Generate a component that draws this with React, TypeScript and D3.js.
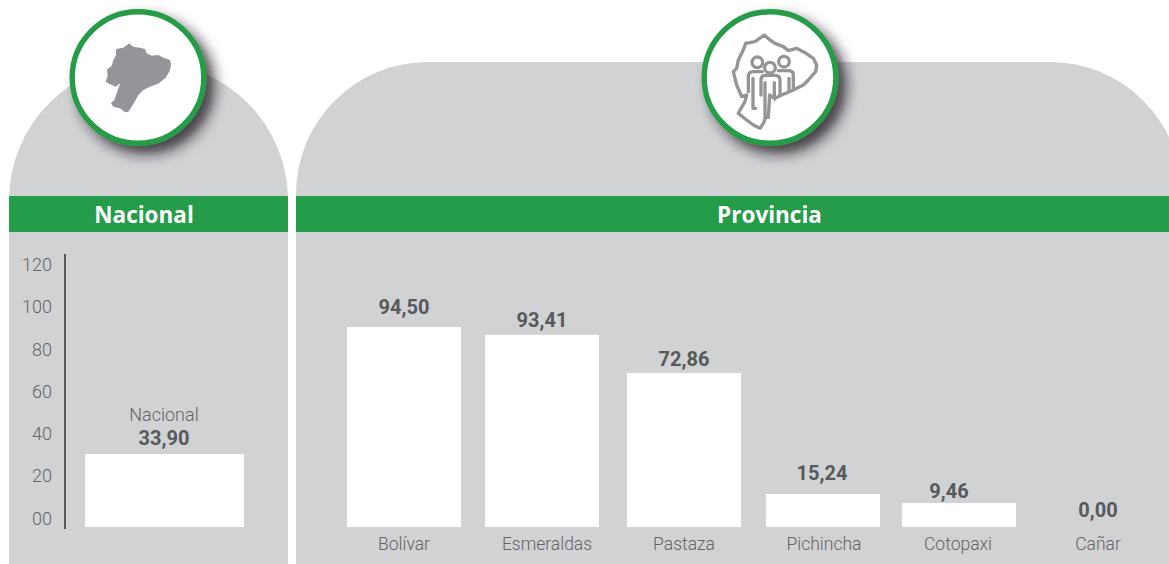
import React from "react";
import * as d3 from "d3";

// ---- Data ----
const provinceCategories = ["Bolívar", "Esmeraldas", "Pastaza", "Pichincha", "Cotopaxi", "Cañar"];
const provinceLabels = ["94,50", "93,41", "72,86", "15,24", "9,46", "0,00"];
// Bar lengths, in axis units (the source infographic's bars
// do not strictly follow their printed labels).
const provinceBarLengths = [94.5, 90.8, 72.8, 15.6, 11.3, 0];
const nationalCategory = "Nacional";
const nationalLabel = "33,90";
const nationalBarLength = 34.5;
const axisTicks = [0, 20, 40, 60, 80, 100, 120];

// ---- Layout ----
const W = 1169;
const H = 564;
const GREEN = "#259c4a";
const PANEL = "#d1d2d4";
const TEXT_LIGHT = "#636466";
const TEXT_BOLD = "#58595b";
const SANS = "Roboto, sans-serif";
const BAR_W = 114;
const provinceCenters = [404, 542, 684, 823, 959, 1098];
const categoryDx = [0, 5, 0, 1, -1, 0];
const valueDx = [0, 0, 0, -1, -10, 0];
const valueBaselines = [314, 327, 366, 480, 498, 517];

const y = d3.scaleLinear().domain([0, 120]).range([527, 527 - 2.116 * 120]);
const tickY = d3.scaleLinear().domain([0, 120]).range([524.5, 271]);
const xProvince = d3.scaleOrdinal<string, number>().domain(provinceCategories).range(provinceCenters);

const mapPts: [number, number][] = [
  [103, 25], [110, 32], [118, 36], [135, 38], [150, 42], [155, 55], [170, 62], [190, 60], [205, 68], [225, 75], [228, 90],
  [224, 108], [212, 128], [192, 145], [165, 155], [145, 165], [130, 180], [122, 195], [110, 215], [100, 230],
  [90, 232], [75, 220], [55, 215], [48, 205], [58, 195], [64, 178], [70, 160], [76, 145], [62, 155], [45, 148],
  [32, 140], [38, 122], [36, 104], [50, 92], [55, 76], [62, 62], [64, 42], [85, 38],
];
const outlinePts: [number, number][] = [
  [118, 15], [135, 30], [150, 40], [175, 50], [190, 62], [215, 55], [240, 68], [265, 85], [275, 105], [272, 125],
  [250, 150], [235, 165], [205, 180], [170, 195], [150, 205], [135, 225], [125, 255], [115, 280], [105, 295],
  [85, 285], [65, 270], [40, 250], [48, 235], [60, 215], [65, 195], [50, 200], [35, 165], [25, 125], [35, 115],
  [40, 90], [55, 60], [62, 40], [90, 35],
];
const closed = d3.line().curve(d3.curveLinearClosed);

function Badge({ cx, children }: { cx: number; children?: React.ReactNode }) {
  return (
    <g>
      <circle cx={cx} cy={77.5} r={65.8} fill="#fff" stroke={GREEN} strokeWidth={5.4} filter="url(#badgeShadow)" />
      {children}
    </g>
  );
}

export default function App() {
  return (
    <svg width={W} height={H} viewBox={`0 0 ${W} ${H}`} style={{ position: "absolute", left: 0, top: 0, background: "#fff" }}>
      <defs>
        <filter id="badgeShadow" x="-30%" y="-30%" width="170%" height="170%">
          <feDropShadow dx={8} dy={8} stdDeviation={6.5} floodColor="#231f20" floodOpacity={0.8} />
        </filter>
      </defs>

      {/* Panels */}
      <path d={`M9,${H} V200 A139.5,138 0 0 1 288,200 V${H} Z`} fill={PANEL} />
      <path d={`M296,${H} V194 A132,132 0 0 1 428,62 H1050 A132,132 0 0 1 1182,194 V${H} Z`} fill={PANEL} />

      {/* Header bands */}
      <rect x={9} y={196} width={279} height={36} fill={GREEN} />
      <rect x={296} y={196} width={W - 296} height={36} fill={GREEN} />
      <text x={144} y={223} textAnchor="middle" fill="#fff" fontFamily="'Open Sans', sans-serif" fontWeight={700} fontSize={22.5}>Nacional</text>
      <text x={769.5} y={223} textAnchor="middle" fill="#fff" fontFamily="'Open Sans', sans-serif" fontWeight={700} fontSize={22.5}>Provincia</text>

      {/* Badges */}
      <Badge cx={138}>
        <path d={closed(mapPts) ?? ""} transform="translate(95,35) scale(0.3333)" fill="#939598" />
      </Badge>
      <Badge cx={770}>
        <g transform="translate(725,30) scale(0.3333)" fill="none" stroke="#939598" strokeWidth={10} strokeLinejoin="round" strokeLinecap="round">
          <path d={closed(outlinePts) ?? ""} />
          <path d="M68,188 V140 Q68,123 85,123 H192 Q207,123 207,138 V178 H165 L150,205 L132,262 H116 L106,200 H85 Z" fill="#fff" stroke="none" />
          <circle cx={97} cy={97} r={16} fill="#fff" />
          <circle cx={177} cy={95} r={16} fill="#fff" />
          <path d="M70,185 V140 Q70,125 85,125 H112" />
          <path d="M84,145 V235 H92" />
          <path d="M160,122 H192 Q205,122 205,137 V178" />
          <path d="M192,145 V182" />
          <path d="M108,195 V150 Q108,136 122,136 H150 Q165,136 165,150 V195" />
          <path d="M120,158 V262 H130 L134,195 L148,205 V158" />
          <circle cx={135} cy={113} r={16} fill="#fff" />
        </g>
      </Badge>

      {/* Axis */}
      <line x1={65} x2={65} y1={254} y2={529} stroke={TEXT_BOLD} strokeWidth={2} />
      {axisTicks.map((t) => (
        <text key={t} x={52} y={tickY(t)} textAnchor="end" fontFamily={SANS} fontWeight={300} fontSize={18} fill={TEXT_LIGHT}>
          {t === 0 ? "00" : t}
        </text>
      ))}

      {/* National */}
      <rect x={85} y={y(nationalBarLength)} width={159} height={y(0) - y(nationalBarLength)} fill="#fff" />
      <text x={164} y={421} textAnchor="middle" fontFamily={SANS} fontWeight={300} fontSize={18} fill={TEXT_LIGHT}>{nationalCategory}</text>
      <text x={164} y={445} textAnchor="middle" fontFamily={SANS} fontWeight={700} fontSize={20} fill={TEXT_BOLD}>{nationalLabel}</text>

      {/* Provinces */}
      {provinceCategories.map((c, i) => {
        const cx = xProvince(c);
        return (
          <g key={c}>
            {provinceBarLengths[i] > 0 && (
              <rect x={cx - BAR_W / 2} y={y(provinceBarLengths[i])} width={BAR_W} height={y(0) - y(provinceBarLengths[i])} fill="#fff" />
            )}
            <text x={cx + valueDx[i]} y={valueBaselines[i]} textAnchor="middle" fontFamily={SANS} fontWeight={700} fontSize={20} fill={TEXT_BOLD}>
              {provinceLabels[i]}
            </text>
            <text x={cx + categoryDx[i]} y={550} textAnchor="middle" fontFamily={SANS} fontWeight={300} fontSize={17.5} fill={TEXT_LIGHT}>
              {c}
            </text>
          </g>
        );
      })}
    </svg>
  );
}
